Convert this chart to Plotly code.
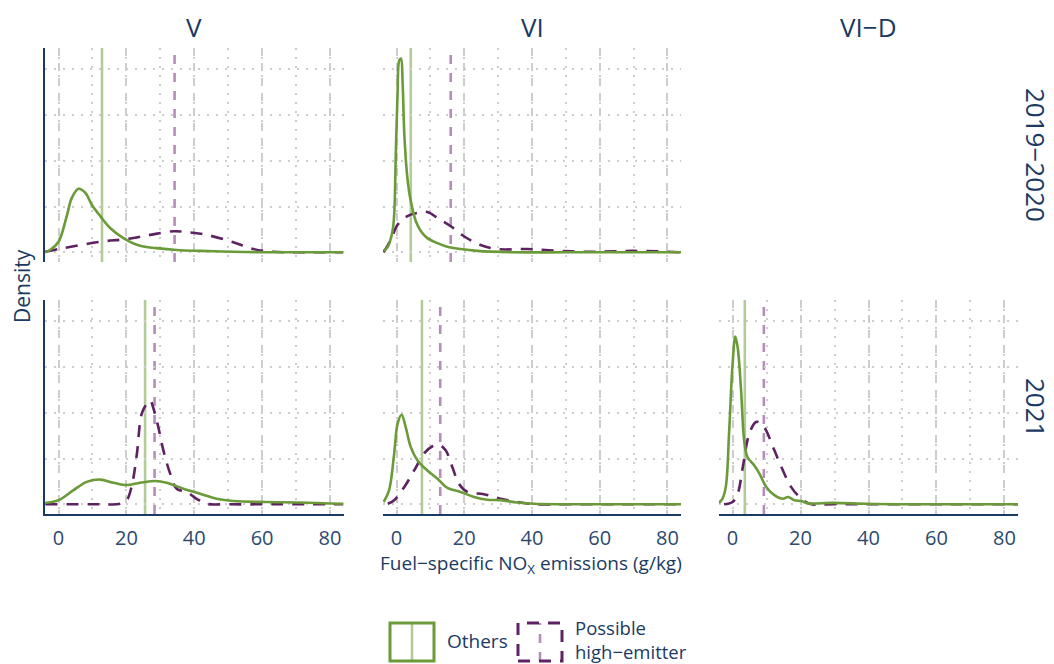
"""Fuel-specific NOx density facets (Plotly)."""

import plotly.graph_objects as go
from plotly.subplots import make_subplots

# the page adds an 8px body margin on the top/left, so shift everything by it
PAGE_W, PAGE_H, PAD = 1054, 664, 8
W, H = PAGE_W - PAD, PAGE_H - PAD

COLORS = {
    "text": "#1B3A63",
    "tick": "#2C4A6E",
    "grid": "#CDCDCD",
    "others": "#6B9A38",
    "others_mean": "#B3CB97",
    "high": "#5E2263",
    "high_mean": "#B48DB8",
}

STANDARDS = ["V", "VI", "VI−D"]
PERIODS = ["2019−2020", "2021"]

# ---- density curves (x in g/kg, y density) ----
X_V_1920_OTH = [-3.9, -2.5, 0, 2.5, 3.9, 5.9, 7.9, 9.8, 12.3, 15.2, 19.1, 24.0, 28.9, 34.8, 41.7, 51.5, 61.3, 72.0, 83.9]
Y_V_1920_OTH = [0.000, 0.005, 0.023, 0.082, 0.119, 0.139, 0.130, 0.104, 0.079, 0.053, 0.031, 0.014, 0.009, 0.005, 0.003, 0.001, 0.000, 0.000, 0.000]
X_V_1920_HIGH = [-3.9, 0, 12.3, 20.1, 27.0, 33.9, 37.8, 43.7, 51.5, 57.4, 63.3, 72.0, 83.9]
Y_V_1920_HIGH = [0.001, 0.007, 0.023, 0.029, 0.038, 0.046, 0.044, 0.038, 0.022, 0.007, 0.001, 0.000, 0.000]

X_VI_1920_OTH = [-3.8, -2.6, -1.2, -0.7, -0.2, 0.3, 0.8, 1.3, 1.8, 2.3, 3.2, 4.2, 5.7, 7.2, 9.1, 12.1, 15.0, 18.9, 23.8, 33.7, 50.0, 70.0, 84.2]
Y_VI_1920_OTH = [0.003, 0.012, 0.046, 0.082, 0.222, 0.347, 0.420, 0.424, 0.369, 0.258, 0.163, 0.112, 0.068, 0.046, 0.031, 0.020, 0.012, 0.007, 0.003, 0.000, 0.000, 0.000, 0.000]
X_VI_1920_HIGH = [-3.8, -1.7, 0.3, 3.2, 6.2, 9.1, 12.1, 16.0, 19.9, 24.8, 29.7, 38.6, 48.4, 58.2, 70.0, 84.2]
Y_VI_1920_HIGH = [0.000, 0.027, 0.060, 0.079, 0.086, 0.088, 0.075, 0.057, 0.035, 0.016, 0.007, 0.007, 0.003, 0.001, 0.003, 0.000]

X_V_2021_OTH = [-3.9, 0, 4.4, 8.3, 12.3, 16.2, 20.1, 24.0, 28.5, 31.9, 36.8, 41.7, 46.6, 51.5, 61.3, 71.1, 83.9]
Y_V_2021_OTH = [0.003, 0.009, 0.031, 0.049, 0.054, 0.047, 0.042, 0.047, 0.051, 0.047, 0.034, 0.023, 0.012, 0.007, 0.005, 0.004, 0.001]
X_V_2021_HIGH = [-3.9, 5.0, 12.0, 18.2, 20.1, 21.6, 23.1, 24.5, 26.0, 27.0, 28.0, 29.4, 30.9, 32.9, 34.8, 37.8, 40.7, 43.7, 50.0, 65.0, 83.9]
Y_V_2021_HIGH = [0.000, 0.000, 0.000, 0.001, 0.009, 0.041, 0.111, 0.198, 0.220, 0.227, 0.209, 0.169, 0.118, 0.067, 0.034, 0.027, 0.012, 0.001, 0.000, 0.000, 0.000]

X_VI_2021_OTH = [-3.8, -2.2, -0.7, 0.3, 1.5, 2.7, 4.2, 6.2, 9.1, 12.1, 15.0, 18.9, 22.9, 26.8, 30.7, 35.6, 40.5, 50.0, 65.0, 84.2]
Y_VI_2021_OTH = [0.005, 0.031, 0.111, 0.176, 0.196, 0.169, 0.125, 0.096, 0.074, 0.056, 0.036, 0.027, 0.016, 0.010, 0.009, 0.004, 0.001, 0.000, 0.000, 0.000]
X_VI_2021_HIGH = [-2.6, -0.7, 2.3, 5.2, 8.1, 10.6, 12.6, 14.5, 16.5, 18.4, 20.9, 25.8, 30.7, 36.6, 41.5, 50.0, 65.0, 84.2]
Y_VI_2021_HIGH = [0.001, 0.009, 0.038, 0.074, 0.111, 0.127, 0.130, 0.118, 0.081, 0.045, 0.027, 0.022, 0.012, 0.004, 0.000, 0.000, 0.000, 0.000]

X_VID_2021_OTH = [-4.1, -3.0, -2.0, -1.0, 0, 0.8, 1.5, 2.5, 3.4, 4.4, 6.4, 7.9, 9.9, 12.3, 14.8, 16.3, 18.2, 20.2, 22.2, 29.6, 39.4, 50.0, 65.0, 84.2]
Y_VID_2021_OTH = [0.003, 0.012, 0.038, 0.161, 0.307, 0.367, 0.343, 0.249, 0.140, 0.103, 0.085, 0.067, 0.038, 0.020, 0.012, 0.016, 0.009, 0.007, 0.002, 0.003, 0.001, 0.000, 0.000, 0.000]
X_VID_2021_HIGH = [-2.5, 0, 1.5, 3.0, 4.9, 6.9, 8.4, 9.9, 12.3, 14.8, 17.2, 19.7, 22.7, 30.0, 45.0, 65.0, 84.2]
Y_VID_2021_HIGH = [0.000, 0.005, 0.023, 0.081, 0.154, 0.180, 0.177, 0.161, 0.118, 0.074, 0.038, 0.016, 0.001, 0.000, 0.000, 0.000, 0.000]

# group means (vertical reference lines)
MEAN_OTH = {(1, 1): 12.8, (1, 2): 4.2, (2, 1): 25.5, (2, 2): 7.5, (2, 3): 3.6}
MEAN_HIGH = {(1, 1): 34.2, (1, 2): 16.0, (2, 1): 28.3, (2, 2): 12.9, (2, 3): 9.2}

CURVES = {
    (1, 1): ((X_V_1920_OTH, Y_V_1920_OTH), (X_V_1920_HIGH, Y_V_1920_HIGH)),
    (1, 2): ((X_VI_1920_OTH, Y_VI_1920_OTH), (X_VI_1920_HIGH, Y_VI_1920_HIGH)),
    (2, 1): ((X_V_2021_OTH, Y_V_2021_OTH), (X_V_2021_HIGH, Y_V_2021_HIGH)),
    (2, 2): ((X_VI_2021_OTH, Y_VI_2021_OTH), (X_VI_2021_HIGH, Y_VI_2021_HIGH)),
    (2, 3): ((X_VID_2021_OTH, Y_VID_2021_OTH), (X_VID_2021_HIGH, Y_VID_2021_HIGH)),
}

X_TICKS = [0, 20, 40, 60, 80]
Y_TICKS = [0, 0.1, 0.2, 0.3, 0.4]
X_RANGE = [-4.0, 84.0]
Y_RANGE = [-0.0213, 0.447]

# panel placement in page pixels
COL_PX = [(45, 343.5), (383, 681), (719, 1018)]
ROW_PX = [(48, 262), (300, 514)]


def px(x):
    return (x - PAD) / W


def py(y):
    return 1 - (y - PAD) / H


def label(x, y, text, size, **kw):
    return dict(x=px(x), y=py(y), xref="paper", yref="paper", text=text, showarrow=False,
                xanchor=kw.pop("xanchor", "center"), yanchor="middle",
                font=dict(size=size, color=COLORS["text"]), **kw)


def build_figure() -> go.Figure:
    fig = make_subplots(rows=2, cols=3)

    for (r, c), ((xo, yo), (xh, yh)) in CURVES.items():
        fig.add_trace(
            go.Scatter(x=xh, y=yh, mode="lines", line_shape="spline",
                       line=dict(color=COLORS["high"], width=2.6, dash="12px,9px"),
                       showlegend=False, hoverinfo="skip"),
            row=r, col=c,
        )
        fig.add_trace(
            go.Scatter(x=xo, y=yo, mode="lines", line_shape="spline",
                       line=dict(color=COLORS["others"], width=2.6),
                       showlegend=False, hoverinfo="skip"),
            row=r, col=c,
        )

    # means go in after the traces so the subplots are not skipped as empty
    for (r, c) in CURVES:
        fig.add_vline(x=MEAN_OTH[(r, c)], line_color=COLORS["others_mean"], line_width=2.6,
                      layer="below", row=r, col=c)
        fig.add_vline(x=MEAN_HIGH[(r, c)], line_color=COLORS["high_mean"], line_width=2.6,
                      line_dash="9px,9px", layer="below", row=r, col=c)

    for r in (1, 2):
        for c in (1, 2, 3):
            x0, x1 = COL_PX[c - 1]
            y0, y1 = ROW_PX[r - 1]
            fig.update_xaxes(
                domain=[px(x0), px(x1)], range=X_RANGE, tickvals=X_TICKS,
                showticklabels=(r == 2), ticks="", zeroline=False, ticklabelstandoff=5,
                showgrid=True, gridcolor=COLORS["grid"], gridwidth=1.8, griddash="8px,7px",
                minor=dict(dtick=10, tick0=0, showgrid=True, gridcolor=COLORS["grid"],
                           gridwidth=1.8, griddash="2px,7px"),
                showline=(r == 2), linecolor=COLORS["text"], linewidth=2,
                tickfont=dict(size=20, color=COLORS["tick"]),
                row=r, col=c,
            )
            fig.update_yaxes(
                domain=[py(y1), py(y0)], range=Y_RANGE, tickvals=Y_TICKS,
                showticklabels=False, ticks="", zeroline=False,
                showgrid=True, gridcolor=COLORS["grid"], gridwidth=1.8, griddash="2px,7px",
                showline=(c == 1), linecolor=COLORS["text"], linewidth=2,
                row=r, col=c,
            )

    ann = []
    for (x0, x1), txt in zip(COL_PX, STANDARDS):
        ann.append(label((x0 + x1) / 2, 27, txt, 26))
    for (y0, y1), txt in zip(ROW_PX, PERIODS):
        ann.append(label(1036, (y0 + y1) / 2, txt, 26, textangle=90))
    ann.append(label(531, 564, "Fuel−specific NO<sub>X</sub> emissions (g/kg)", 19))
    ann.append(label(22, 286, "Density", 21, textangle=-90))
    ann.append(label(445, 641, "Others", 19, xanchor="left"))
    ann.append(label(573, 639, "Possible<br>high−emitter", 18.5, xanchor="left", align="left"))

    # legend keys drawn by hand (box outline + mean line)
    keys = [
        (390, 434, COLORS["others"], COLORS["others_mean"], "solid", "solid"),
        (518, 562, COLORS["high"], COLORS["high_mean"], "12px,9px", "9px,9px"),
    ]
    for kx0, kx1, outline, mean_col, box_dash, mean_dash in keys:
        fig.add_shape(type="line", xref="paper", yref="paper",
                      x0=px((kx0 + kx1) / 2), x1=px((kx0 + kx1) / 2), y0=py(661), y1=py(623),
                      line=dict(color=mean_col, width=2.6, dash=mean_dash))
        fig.add_shape(type="rect", xref="paper", yref="paper",
                      x0=px(kx0), x1=px(kx1), y0=py(661), y1=py(623),
                      line=dict(color=outline, width=3, dash=box_dash))

    fig.update_layout(
        width=W, height=H,
        margin=dict(l=0, r=0, t=0, b=0),
        paper_bgcolor="white", plot_bgcolor="white",
        font=dict(family="'Open Sans', sans-serif", color=COLORS["text"]),
        showlegend=False,
        annotations=ann,
    )
    return fig


fig = build_figure()
fig.write_html("out.html")
